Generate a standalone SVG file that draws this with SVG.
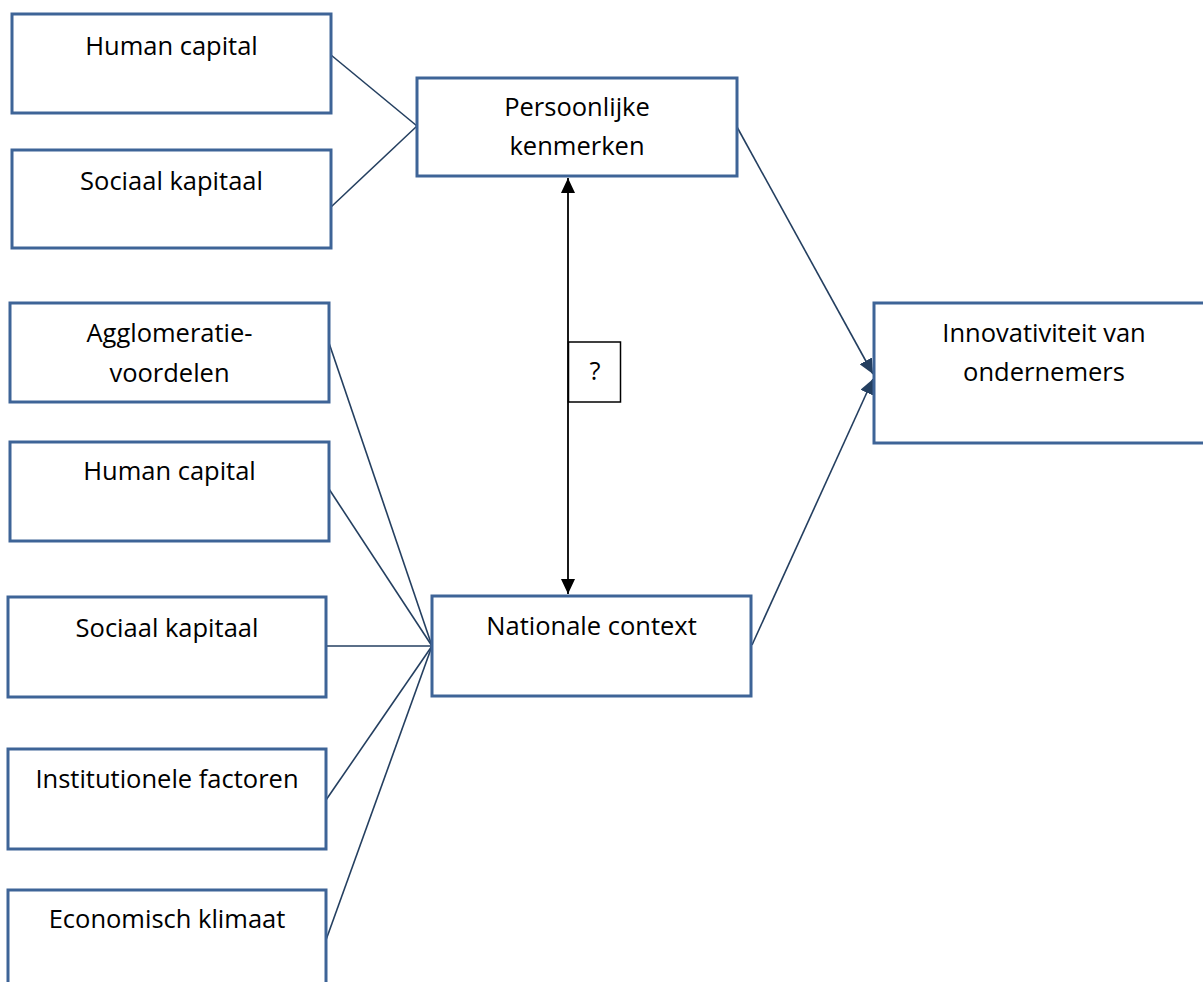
<svg xmlns="http://www.w3.org/2000/svg" width="1203" height="982" viewBox="0 0 1203 982">
<style>
.box{fill:#fff;stroke:#3E6497;stroke-width:3}
.t{font-family:"Open Sans","Liberation Sans",sans-serif;font-size:25.5px;fill:#000;text-anchor:middle}
.c{stroke:#243F60;stroke-width:1.6;fill:none}
.b{stroke:#000;stroke-width:1.8;fill:none}
</style>
<defs>
<marker id="ah" markerUnits="userSpaceOnUse" markerWidth="16" markerHeight="14" refX="15" refY="7" orient="auto-start-reverse" viewBox="0 0 16 14">
<path d="M0,0 L15,7 L0,14 Z" fill="#000"/>
</marker>
<marker id="an" markerUnits="userSpaceOnUse" markerWidth="16" markerHeight="14" refX="15" refY="7" orient="auto" viewBox="0 0 16 14">
<path d="M0,0 L15,7 L0,14 Z" fill="#243F60"/>
</marker>
</defs>
<g id="connectors">
<line class="c" x1="331" y1="55" x2="417" y2="126"/>
<line class="c" x1="331" y1="207" x2="417" y2="126"/>
<line class="c" x1="329" y1="343" x2="432" y2="646"/>
<line class="c" x1="329" y1="489" x2="432" y2="646"/>
<line class="c" x1="326" y1="646" x2="432" y2="646"/>
<line class="c" x1="326" y1="800" x2="432" y2="646"/>
<line class="c" x1="326" y1="940" x2="432" y2="646"/>
<line class="c" x1="737" y1="127" x2="873" y2="374" marker-end="url(#an)"/>
<line class="c" x1="752" y1="645" x2="873" y2="379" marker-end="url(#an)"/>
<line class="b" x1="568" y1="178" x2="568" y2="594" marker-start="url(#ah)" marker-end="url(#ah)"/>
</g>
<g id="q">
<rect x="568.5" y="342" width="52" height="60" fill="#fff" stroke="#000" stroke-width="1.5"/>
<text class="t" x="595" y="380">?</text>
</g>
<g id="hc1"><rect class="box" x="12" y="14" width="319" height="99"/><text class="t" x="171.5" y="55">Human capital</text></g>
<g id="sk1"><rect class="box" x="12" y="150" width="319" height="98"/><text class="t" x="171.5" y="190">Sociaal kapitaal</text></g>
<g id="pk"><rect class="box" x="417" y="78" width="320" height="98"/><text class="t" x="577" y="116">Persoonlijke</text><text class="t" x="577" y="155">kenmerken</text></g>
<g id="inn"><rect class="box" x="874" y="303" width="340" height="140"/><text class="t" x="1044" y="342">Innovativiteit van</text><text class="t" x="1044" y="381">ondernemers</text></g>
<g id="agg"><rect class="box" x="10" y="303" width="319" height="99"/><text class="t" x="169.5" y="342">Agglomeratie-</text><text class="t" x="169.5" y="382">voordelen</text></g>
<g id="hc2"><rect class="box" x="10" y="442" width="319" height="99"/><text class="t" x="169.5" y="480">Human capital</text></g>
<g id="sk2"><rect class="box" x="8" y="597" width="318" height="100"/><text class="t" x="167" y="637">Sociaal kapitaal</text></g>
<g id="inst"><rect class="box" x="8" y="749" width="318" height="100"/><text class="t" x="167" y="788">Institutionele factoren</text></g>
<g id="eco"><rect class="box" x="8" y="890" width="318" height="100"/><text class="t" x="167" y="928">Economisch klimaat</text></g>
<g id="nc"><rect class="box" x="432" y="596" width="319" height="100"/><text class="t" x="591.5" y="635">Nationale context</text></g>
</svg>
